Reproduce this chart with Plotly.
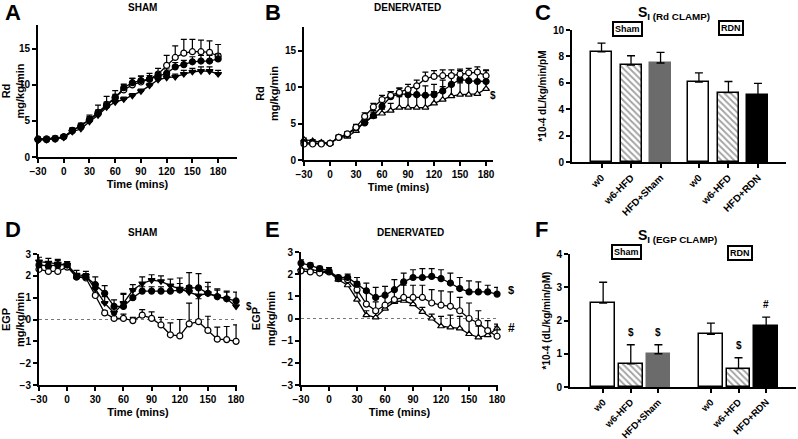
import plotly.graph_objects as go

W, H = 798, 439
time = [-30, -20, -10, 0, 10, 20, 30, 40, 50, 60, 70, 80, 90, 100, 110, 120, 130, 140, 150, 160, 170, 180]

# Panel A (Sham, Rd)
a_open = [2.5, 2.5, 2.6, 2.8, 3.6, 4.3, 5.2, 6.2, 7.3, 8.3, 9.3, 10.0, 10.4, 10.8, 11.5, 12.7, 13.8, 14.4, 14.6, 14.6, 14.5, 14.0]
a_open_err = [0.3, 0.3, 0.3, 0.3, 0.4, 0.4, 0.6, 1.0, 1.1, 0.9, 0.8, 0.9, 0.8, 0.8, 0.8, 1.4, 1.6, 1.9, 1.7, 1.6, 1.6, 1.6]
a_fill = [2.4, 2.4, 2.5, 2.8, 3.7, 4.3, 5.2, 6.0, 7.1, 8.2, 9.6, 10.3, 10.6, 10.8, 11.2, 11.6, 12.5, 12.8, 13.2, 13.3, 13.3, 13.6]
a_fill_err = [0.2, 0.2, 0.2, 0.2, 0.3, 0.3, 0.4, 0.5, 0.5, 0.5, 0.4, 0.6, 0.6, 0.5, 0.5, 0.6, 0.6, 0.6, 0.7, 0.8, 0.8, 0.7]
a_tri = [2.3, 2.4, 2.5, 2.7, 3.5, 3.9, 4.9, 5.8, 6.9, 7.6, 8.0, 8.5, 9.1, 9.9, 10.7, 11.0, 11.1, 11.5, 11.8, 11.9, 11.9, 11.5]
a_tri_err = [0.2, 0.2, 0.2, 0.2, 0.3, 0.3, 0.3, 0.3, 0.3, 0.3, 0.3, 0.3, 0.3, 0.3, 0.3, 0.3, 0.4, 0.5, 0.5, 0.6, 0.6, 0.5]

# Panel B (Denervated, Rd)
b_open = [2.2, 2.2, 2.2, 2.3, 3.1, 3.6, 4.5, 6.0, 7.3, 8.3, 8.9, 9.3, 9.7, 10.2, 11.2, 11.5, 11.6, 11.6, 11.8, 12.0, 12.1, 11.6]
b_open_err = [0.2, 0.2, 0.2, 0.2, 0.3, 0.3, 0.4, 0.5, 0.5, 0.6, 0.5, 0.6, 0.7, 0.8, 0.9, 0.8, 0.8, 0.8, 0.7, 0.6, 0.7, 0.8]
b_fill = [2.4, 2.3, 2.3, 2.3, 3.1, 3.5, 4.4, 5.1, 6.1, 7.4, 8.7, 9.1, 9.0, 9.0, 8.9, 9.0, 9.5, 10.4, 11.1, 10.9, 10.8, 10.8]
b_fill_err = [0.2, 0.2, 0.2, 0.2, 0.3, 0.3, 0.4, 0.5, 0.7, 0.9, 0.7, 0.8, 0.8, 1.0, 1.3, 1.4, 1.5, 1.5, 1.2, 1.0, 1.3, 1.5]
b_tri = [2.8, 2.6, 2.4, 2.3, 3.1, 3.2, 4.0, 5.3, 6.0, 6.4, 6.8, 7.2, 7.2, 7.2, 7.2, 7.8, 8.3, 8.8, 9.0, 9.0, 9.1, 9.8]
b_tri_err = [0.2, 0.2, 0.2, 0.2, 0.3, 0.3, 0.5, 0.5, 0.6, 0.6, 1.0, 1.5, 1.6, 1.6, 1.6, 1.6, 1.8, 1.6, 1.6, 1.7, 1.7, 1.0]

# Panel D (Sham, EGP)
d_open = [2.3, 2.2, 2.2, 2.4, 1.95, 1.9, 1.1, 0.3, 0.05, 0.05, -0.05, 0.2, 0.05, -0.25, -0.7, -0.75, -0.2, -0.1, -0.5, -0.9, -0.92, -1.0]
d_open_err = [0.15, 0.15, 0.15, 0.15, 0.1, 0.1, 0.1, 0.1, 0.2, 0.2, 0.15, 0.25, 0.3, 0.35, 0.55, 0.75, 0.95, 1.05, 0.65, 0.55, 0.6, 0.75]
d_fill = [2.5, 2.45, 2.5, 2.5, 1.95, 1.95, 1.6, 1.2, 0.6, 0.6, 1.0, 1.3, 1.3, 1.3, 1.3, 1.35, 1.45, 1.45, 1.2, 1.05, 0.95, 0.85]
d_fill_err = [0.2, 0.2, 0.2, 0.15, 0.15, 0.15, 0.35, 0.35, 0.3, 0.6, 0.3, 0.2, 0.2, 0.2, 0.3, 0.3, 0.7, 0.65, 0.5, 0.35, 0.35, 0.4]
d_tri = [2.65, 2.6, 2.55, 2.5, 2.05, 2.0, 1.4, 0.75, 0.3, 0.75, 1.35, 1.65, 1.8, 1.75, 1.55, 1.4, 1.25, 1.1, 1.2, 1.05, 0.95, 0.6]
d_tri_err = [0.2, 0.2, 0.2, 0.15, 0.2, 0.2, 0.25, 0.3, 0.3, 0.4, 0.25, 0.3, 0.25, 0.25, 0.3, 0.5, 0.3, 0.3, 0.3, 0.3, 0.3, 0.3]

# Panel E (Denervated, EGP)
e_fill = [2.5, 2.4, 2.25, 2.15, 1.85, 1.85, 1.55, 1.25, 0.95, 1.05, 1.3, 1.65, 1.85, 1.85, 1.9, 1.8, 1.6, 1.35, 1.2, 1.2, 1.2, 1.1]
e_fill_err = [0.15, 0.1, 0.1, 0.15, 0.1, 0.15, 0.3, 0.35, 0.45, 0.4, 0.45, 0.4, 0.35, 0.4, 0.35, 0.4, 0.45, 0.5, 0.5, 0.45, 0.3, 0.3]
e_open = [2.15, 2.1, 2.05, 2.1, 1.8, 1.75, 1.3, 0.65, 0.35, 0.6, 0.85, 0.95, 0.95, 0.95, 0.7, 0.6, 0.55, 0.35, 0.0, -0.2, -0.55, -0.8]
e_open_err = [0.1, 0.1, 0.1, 0.1, 0.1, 0.1, 0.35, 0.55, 0.4, 0.4, 0.5, 0.55, 0.55, 0.55, 0.6, 0.65, 0.65, 0.6, 0.7, 0.55, 0.45, 0.45]
e_tri = [2.25, 2.2, 2.15, 2.1, 1.75, 1.5, 0.85, 0.15, 0.05, 0.45, 0.75, 0.8, 0.65, 0.3, 0.0, -0.35, -0.4, -0.45, -0.7, -0.85, -0.75, -0.45]
e_tri_err = [0.2, 0.15, 0.1, 0.1, 0.1, 0.15, 0.3, 0.2, 0.2, 0.15, 0.15, 0.2, 0.2, 0.2, 0.2, 0.45, 0.55, 0.55, 0.6, 0.5, 0.3, 0.2]

# Bar panels
bar_labels = ["w0", "w6-HFD", "HFD+Sham", "w0", "w6-HFD", "HFD+RDN"]
c_vals = [8.35, 7.35, 7.5, 6.05, 5.25, 5.05]
c_err = [0.65, 0.7, 0.8, 0.7, 0.85, 0.9]
f_vals = [2.52, 0.7, 1.0, 1.58, 0.55, 1.82]
f_err = [0.63, 0.57, 0.27, 0.34, 0.33, 0.28]
f_marks = ["", "$", "$", "", "$", "#"]

FONT = "Liberation Sans, Arial, sans-serif"

def dx(p):
    return p / W

def dy(p):
    return 1 - p / H

fig = go.Figure()

def line_trace(x, y, err, symbol, fill, xa, ya):
    fig.add_trace(go.Scatter(
        x=x, y=y, mode="lines+markers",
        line=dict(color="black", width=1.3),
        marker=dict(symbol=symbol, size=6, color=fill, line=dict(color="black", width=1.2)),
        error_y=dict(type="data", symmetric=False, array=err, arrayminus=[0] * len(err),
                     width=3, thickness=1.2, color="black"),
        xaxis=xa, yaxis=ya, showlegend=False, cliponaxis=False))

# A
line_trace(time, a_open, a_open_err, "circle", "white", "x", "y")
line_trace(time, a_tri, a_tri_err, "triangle-down", "black", "x", "y")
line_trace(time, a_fill, a_fill_err, "circle", "black", "x", "y")
# B
line_trace(time, b_tri, b_tri_err, "triangle-up", "white", "x2", "y2")
line_trace(time, b_fill, b_fill_err, "circle", "black", "x2", "y2")
line_trace(time, b_open, b_open_err, "circle", "white", "x2", "y2")
# D
line_trace(time, d_open, d_open_err, "circle", "white", "x4", "y4")
line_trace(time, d_fill, d_fill_err, "circle", "black", "x4", "y4")
line_trace(time, d_tri, d_tri_err, "triangle-down", "black", "x4", "y4")
# E
line_trace(time, e_tri, e_tri_err, "triangle-up", "white", "x5", "y5")
line_trace(time, e_open, e_open_err, "circle", "white", "x5", "y5")
line_trace(time, e_fill, e_fill_err, "circle", "black", "x5", "y5")

# zero dotted lines in D and E
for xa, ya in (("x4", "y4"), ("x5", "y5")):
    fig.add_shape(type="line", xref=xa, yref=ya, x0=-30, x1=180, y0=0, y1=0,
                  line=dict(color="#777", width=1, dash="dot"), layer="below")

fills = ["white", "white", "#6b6b6b", "white", "white", "black"]
edges = ["black", "black", "#6b6b6b", "black", "black", "black"]
patterns = ["", "\\", "", "", "\\", ""]

def bar_trace(pos, vals, err, width, xa, ya):
    fig.add_trace(go.Bar(
        x=pos, y=vals, width=width,
        marker=dict(color=fills, line=dict(color=edges, width=1.5),
                    pattern=dict(shape=patterns, fgcolor="black", bgcolor="white", size=4.5, solidity=0.4)),
        error_y=dict(type="data", symmetric=False, array=err, arrayminus=[0] * len(err),
                     width=4, thickness=1.3, color="black"),
        xaxis=xa, yaxis=ya, showlegend=False))

c_pos = [0, 1, 2, 3.3, 4.3, 5.3]
f_pos = [0, 1, 2, 3.9, 4.9, 5.9]
bar_trace(c_pos, c_vals, c_err, 0.71, "x3", "y3")
bar_trace(f_pos, f_vals, f_err, 0.85, "x6", "y6")

for p, v, e, m in zip(f_pos, f_vals, f_err, f_marks):
    if m:
        fig.add_annotation(x=p, y=v + e + 0.15, xref="x6", yref="y6", text=m, showarrow=False,
                           xanchor="center", yanchor="bottom", font=dict(size=10, color="black"))

ax_common = dict(showline=True, linecolor="black", linewidth=2, ticks="outside", ticklen=4,
                 tickwidth=1.5, tickcolor="black", showgrid=False, zeroline=False, automargin=False,
                 tickfont=dict(size=10, color="black"))

layout = dict(
    width=W, height=H, margin=dict(l=0, r=0, t=0, b=0, autoexpand=False),
    paper_bgcolor="white", plot_bgcolor="white",
    font=dict(family=FONT, color="black", size=10, weight="bold"),
    bargap=0,
)

def time_axes(n, x0, x1, xr, y0, y1, yr, ytick, ytitle):
    xs = "" if n == 1 else str(n)
    layout["xaxis" + xs] = dict(ax_common, domain=[dx(x0), dx(x1)], range=xr,
                                tickvals=[-30, 0, 30, 60, 90, 120, 150, 180],
                                anchor="y" + xs,
                                title=dict(text="Time (mins)", font=dict(size=11), standoff=4))
    layout["yaxis" + xs] = dict(ax_common, domain=[dy(y1), dy(y0)], range=yr, tickvals=ytick,
                                anchor="x" + xs,
                                title=dict(text=ytitle, font=dict(size=11), standoff=4))

time_axes(1, 38, 237, [-30, 202], 25, 157, [0, 18.3], [0, 5, 10, 15], "Rd<br>mg/kg/min")
time_axes(2, 304, 493, [-30, 188], 27, 160, [0, 18.3], [0, 5, 10, 15], "Rd<br>mg/kg/min")
time_axes(4, 39, 237, [-30, 181], 254, 385, [-3, 3], [-3, -2, -1, 0, 1, 2, 3], "EGP<br>mg/kg/min")
time_axes(5, 301, 498, [-30, 181], 252, 385, [-3, 3], [-3, -2, -1, 0, 1, 2, 3], "EGP<br>mg/kg/min")

layout["xaxis3"] = dict(ax_common, domain=[dx(572), dx(786)], range=[-1.0, 6.25], anchor="y3",
                        tickvals=c_pos, ticktext=bar_labels, tickangle=-45, ticks="outside")
layout["yaxis3"] = dict(ax_common, domain=[dy(162), dy(30)], range=[0, 10], tickvals=[0, 2, 4, 6, 8, 10],
                        anchor="x3", title=dict(text="*10-4 dL/kg/min/pM", font=dict(size=10), standoff=4))
layout["xaxis6"] = dict(ax_common, domain=[dx(570), dx(796)], range=[-1.2, 6.98], anchor="y6",
                        tickvals=f_pos, ticktext=bar_labels, tickangle=-45, ticks="outside",
                        tickfont=dict(size=9.5, color="black"))
layout["yaxis6"] = dict(ax_common, domain=[dy(387), dy(254)], range=[0, 4], tickvals=[0, 1, 2, 3, 4],
                        anchor="x6", title=dict(text="*10-4 (dL/kg/min/pM)", font=dict(size=10), standoff=4))

fig.update_layout(**layout)

def paper_text(x, y, text, size, **kw):
    kw.setdefault("xanchor", "center")
    fig.add_annotation(x=dx(x), y=dy(y), xref="paper", yref="paper", text=text, showarrow=False,
                       yanchor="middle",
                       font=dict(size=size, color="black", family=FONT), **kw)

# panel letters
for lt, x, y in (("A", 3, 13), ("B", 263, 13), ("C", 533, 13), ("D", 3, 229), ("E", 263, 229), ("F", 533, 229)):
    paper_text(x, y, lt, 22, xanchor="left")

paper_text(142, 8, "SHAM", 10)
paper_text(407, 8, "DENERVATED", 10)
paper_text(142, 232, "SHAM", 10)
paper_text(410, 232, "DENERVATED", 10)

paper_text(674, 13, "S<sub>I (Rd CLAMP)</sub>", 14)
paper_text(677, 236, "S<sub>I (EGP CLAMP)</sub>", 14)

for x, y, t in ((627, 29, "Sham"), (731, 28, "RDN"), (626, 252, "Sham"), (740, 253, "RDN")):
    fig.add_annotation(x=dx(x), y=dy(y), xref="paper", yref="paper", text=t, showarrow=False,
                       xanchor="center", yanchor="middle",
                       font=dict(size=9, color="black", family=FONT),
                       bordercolor="black", borderwidth=2, borderpad=1, bgcolor="white")

# significance marks on time panels
paper_text(493, 95, "$", 10)
paper_text(249, 306, "$", 10)
paper_text(511, 290, "$", 11)
paper_text(511, 328, "#", 12)

fig.write_html("out.html", config={"displayModeBar": False},
               post_script="document.body.style.margin='0';document.body.style.overflow='hidden';")
